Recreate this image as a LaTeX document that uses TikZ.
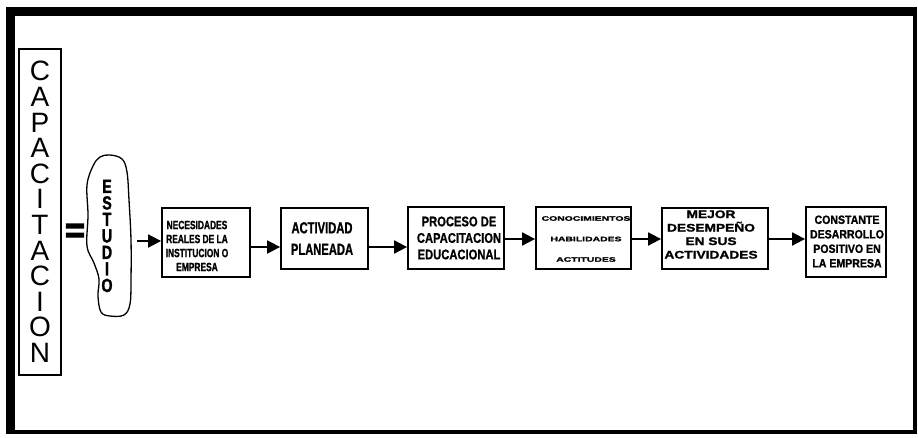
\documentclass[tikz,border=0pt]{standalone}
\usepackage{fontspec}
\setmainfont{Liberation Sans}
\newfontfamily\fEst[FakeStretch=0.75,FakeBold=1.5]{Liberation Sans Bold}
\newfontfamily\fA[FakeStretch=0.7,FakeBold=1]{Liberation Sans Bold}
\newfontfamily\fB[FakeStretch=0.8,FakeBold=1]{Liberation Sans Bold}
\newfontfamily\fC[FakeStretch=0.88,FakeBold=1]{Liberation Sans Bold}
\newfontfamily\fW[FakeStretch=1.6,FakeBold=1.5]{Liberation Sans Bold}
\newfontfamily\fV[FakeStretch=1.25,FakeBold=1.5]{Liberation Sans Bold}
\newfontfamily\fEq[FakeBold=4]{Liberation Sans Bold}
\usetikzlibrary{arrows.meta}
\begin{document}
\begin{tikzpicture}[x=1pt,y=-1pt,
  box/.style={draw,line width=1.8pt,inner sep=0pt},
  txt/.style={inner sep=0pt,align=center},
  arr/.style={line width=1.8pt,-{Triangle[length=13pt,width=13pt]}},
  framel/.style={line cap=butt}]
\useasboundingbox (0,0) rectangle (918,437);
\fill[white] (0,0) rectangle (918,437);
% outer frame
\draw[framel,line width=9pt] (10.5,7) -- (10.5,434);
\draw[framel,line width=9pt] (6,11.5) -- (917,11.5);
\draw[framel,line width=3.5pt] (915,7) -- (915,434);
\draw[framel,line width=4pt] (6,432) -- (917,432);
% CAPACITACION
\node[draw,line width=1.2pt,minimum width=42pt,minimum height=326pt,inner sep=0pt,align=center,
  font=\fontsize{28}{25.6}\selectfont] (cap) at (40,212)
  {C\\A\\P\\A\\C\\I\\T\\A\\C\\I\\O\\N};
% equals sign
\node[txt,font={\fEq\fontsize{34}{34}\selectfont}] (eq) at (75,233) {=};
% ESTUDIO blob
\draw[line width=1.3pt] plot[smooth cycle, tension=0.6] coordinates {
  (110,155) (122,159) (127,172) (129,200) (131,240) (131,280) (130,304) (124,315)
  (110,316) (101,312) (98,296) (99,279) (94,263) (87,246) (88,215) (87,185) (93,166) (100,157)};
\node[txt,font={\fEst\fontsize{19}{16.5}\selectfont}] (est) at (107,236)
  {E\\S\\T\\U\\D\\I\\O};
% boxes
\node[box,minimum width=88pt,minimum height=69pt] (b1) at (206,242.5) {};
\node[box,minimum width=87pt,minimum height=61pt] (b2) at (324.5,238.5) {};
\node[box,minimum width=96pt,minimum height=62pt] (b3) at (456,238) {};
\node[box,minimum width=95pt,minimum height=62pt] (b4) at (583.5,238) {};
\node[box,minimum width=106pt,minimum height=61pt] (b5) at (715,238.5) {};
\node[box,minimum width=80pt,minimum height=70pt] (b6) at (846,242) {};
% texts
\node[txt,font={\fA\fontsize{12}{14}\selectfont}] (t1) at (197,246)
  {NECESIDADES\\REALES DE LA\\INSTITUCION O\\EMPRESA};
\node[txt,font={\fA\fontsize{16}{21.5}\selectfont}] (t2) at (322,238.5)
  {ACTIVIDAD\\PLANEADA};
\node[txt,font={\fB\fontsize{14}{16.5}\selectfont}] (t3) at (459,238)
  {PROCESO DE\\CAPACITACION\\EDUCACIONAL};
\node[txt,font={\fW\fontsize{6.5}{20.5}\selectfont}] (t4) at (586,239)
  {CONOCIMIENTOS\\HABILIDADES\\ACTITUDES};
\node[txt,font={\fV\fontsize{11}{13.5}\selectfont}] (t5) at (711,234.5)
  {MEJOR\\DESEMPEÑO\\EN SUS\\ACTIVIDADES};
\node[txt,font={\fC\fontsize{12}{14.5}\selectfont}] (t6) at (847,241.5)
  {CONSTANTE\\DESARROLLO\\POSITIVO EN\\LA EMPRESA};
% arrows
\coordinate (a0) at (137,241);
\draw[arr] (a0) -- (b1.west |- a0);
\draw[arr] (b1.east |- 0,247) -- (b2.west |- 0,247);
\draw[arr] (b2.east |- 0,247) -- (b3.west |- 0,247);
\draw[arr] (b3.east |- 0,239) -- (b4.west |- 0,239);
\draw[arr] (b4.east |- 0,239) -- (b5.west |- 0,239);
\draw[arr] (b5.east |- 0,239) -- (b6.west |- 0,239);
\end{tikzpicture}
\end{document}
